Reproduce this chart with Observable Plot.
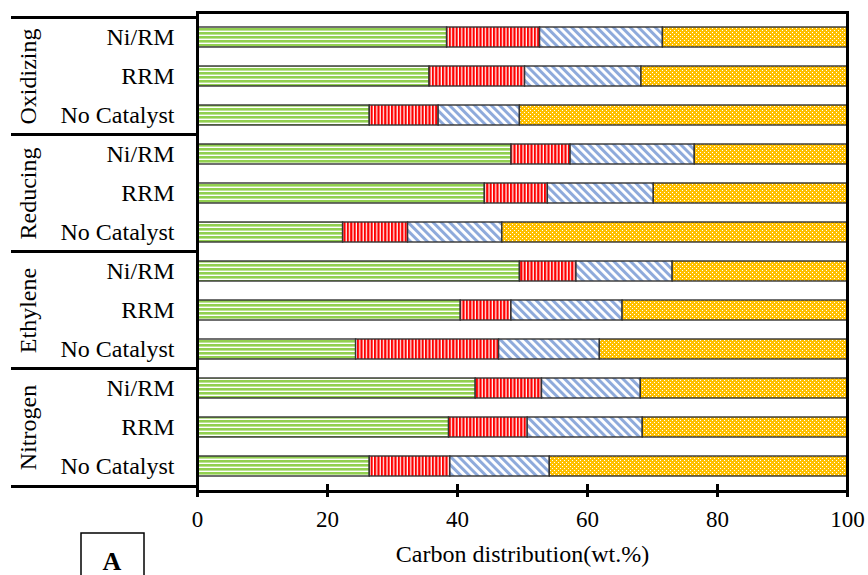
<!DOCTYPE html>
<html>
<head>
<meta charset="utf-8">
<script src="https://cdn.jsdelivr.net/npm/d3@7"></script>
<script src="https://cdn.jsdelivr.net/npm/@observablehq/plot@0.6"></script>
<style>
  html, body { margin: 0; padding: 0; background: #fff; }
  #chart svg text { font-family: 'Liberation Serif', 'Times New Roman', serif !important; fill: #000; }
</style>
</head>
<body>
<div id="chart"></div>
<script>
// ---- data ----
const groups = ["Oxidizing", "Reducing", "Ethylene", "Nitrogen"];
const catalysts = ["Ni/RM", "RRM", "No Catalyst"];
const seriesNames = ["Series 1", "Series 2", "Series 3", "Series 4"];
// rows in order: Oxidizing(Ni/RM, RRM, No Catalyst), Reducing(...), Ethylene(...), Nitrogen(...)
const series1 = [38.4, 35.7, 26.5, 48.3, 44.2, 22.4, 49.6, 40.5, 24.4, 42.8, 38.7, 26.5];
const series2 = [14.3, 14.7, 10.6,  9.1,  9.7, 10.0,  8.7,  7.8, 22.0, 10.2, 12.1, 12.4];
const series3 = [18.9, 17.9, 12.5, 19.1, 16.3, 14.5, 14.8, 17.1, 15.5, 15.2, 17.7, 15.3];
const series4 = [28.4, 31.7, 50.4, 23.5, 29.8, 53.1, 26.9, 34.6, 38.1, 31.8, 31.5, 45.8];
const xTicks = [0, 20, 40, 60, 80, 100];
const xLabel = "Carbon distribution(wt.%)";
const panelTag = "A";

// ---- build table ----
const rows = groups.flatMap(g => catalysts.map(c => `${g}|${c}`));
const allSeries = [series1, series2, series3, series4];
const data = [];
rows.forEach((r, i) => {
  allSeries.forEach((s, k) => data.push({row: r, series: seriesNames[k], value: s[i]}));
});
const groupFirst = groups.map(g => `${g}|${catalysts[0]}`);
const groupMid = groups.map(g => `${g}|${catalysts[1]}`);
const lastRow = [rows[rows.length - 1]];

const patternUrls = ["url(#pGreen)", "url(#pRed)", "url(#pBlue)", "url(#pYellow)"];
const font = "'Liberation Serif', 'Times New Roman', serif";

const chart = Plot.plot({
  width: 868,
  height: 575,
  marginLeft: 197,
  marginRight: 21,
  marginTop: 12,
  marginBottom: 84,
  style: {fontFamily: font, fontSize: "23px", color: "#000", background: "#fff"},
  x: {domain: [0, 100], label: null},
  y: {domain: rows, paddingInner: 0.5, paddingOuter: 0.25, label: null},
  color: {domain: seriesNames, range: patternUrls},
  marks: [
    Plot.barX(data, {
      x: "value", y: "row", fill: "series", order: seriesNames,
      stroke: "#333", strokeWidth: 1.4
    }),
    Plot.frame({strokeWidth: 3, stroke: "#000"}),
    // group separators in the left margin
    Plot.ruleY(groupFirst, {y: d => d, dy: -20, insetLeft: -186, insetRight: 650, strokeWidth: 3, stroke: "#000"}),
    Plot.ruleY(lastRow, {y: d => d, dy: 20, insetLeft: -186, insetRight: 650, strokeWidth: 3, stroke: "#000"}),
    // inner half of the crossing x ticks
    Plot.ruleX(xTicks, {x: d => d, insetTop: 472, strokeWidth: 3, stroke: "#000"}),
    Plot.axisY({tickSize: 0, tickPadding: 23, tickFormat: d => d.split("|")[1], fontSize: 24, fontFamily: font, label: null}),
    Plot.axisX({ticks: xTicks, tickSize: 6, tickPadding: 13, strokeWidth: 3, fontSize: 23, fontFamily: font, label: null}),
    Plot.text(groupMid, {y: d => d, text: d => d.split("|")[0], rotate: -90, frameAnchor: "left", textAnchor: "middle", dx: -169, fontSize: 24, fontFamily: font, fill: "#000"}),
    Plot.text([xLabel], {text: d => d, frameAnchor: "bottom", dy: 70, fontSize: 24, fontFamily: font, fill: "#000"})
  ]
});

// patterns
const svg = d3.select(chart);
svg.insert("defs", ":first-child").html(`
  <pattern id="pGreen" patternUnits="userSpaceOnUse" width="8" height="4">
    <rect width="8" height="4" fill="#fff"/>
    <rect y="0" width="8" height="2.6" fill="#92d050"/>
  </pattern>
  <pattern id="pRed" patternUnits="userSpaceOnUse" width="3.4" height="8">
    <rect width="3.4" height="8" fill="#fff"/>
    <rect x="0" width="2.2" height="8" fill="#ff0000"/>
  </pattern>
  <pattern id="pBlue" patternUnits="userSpaceOnUse" width="5.9" height="8" patternTransform="rotate(-45)">
    <rect width="5.9" height="8" fill="#fff"/>
    <rect x="0" width="3" height="8" fill="#8eaadb"/>
  </pattern>
  <pattern id="pYellow" patternUnits="userSpaceOnUse" width="8" height="8">
    <rect width="8" height="8" fill="#ffc000"/>
    <rect x="0" y="0" width="1" height="1" fill="#fff"/>
    <rect x="4" y="0" width="1" height="1" fill="#fff"/>
    <rect x="2" y="2" width="1" height="1" fill="#fff"/>
    <rect x="6" y="2" width="1" height="1" fill="#fff"/>
    <rect x="0" y="4" width="1" height="1" fill="#fff"/>
    <rect x="4" y="4" width="1" height="1" fill="#fff"/>
    <rect x="2" y="6" width="1" height="1" fill="#fff"/>
    <rect x="6" y="6" width="1" height="1" fill="#fff"/>
  </pattern>
`);

// panel tag box
const tag = svg.append("g");
tag.append("rect").attr("x", 81).attr("y", 533).attr("width", 63).attr("height", 60)
  .attr("fill", "#fff").attr("stroke", "#000").attr("stroke-width", 1.5);
tag.append("text").attr("x", 112).attr("y", 570).attr("text-anchor", "middle")
  .attr("font-family", font).attr("font-weight", "bold").attr("font-size", 26).attr("fill", "#000").text(panelTag);

document.getElementById("chart").appendChild(chart);
</script>
</body>
</html>
